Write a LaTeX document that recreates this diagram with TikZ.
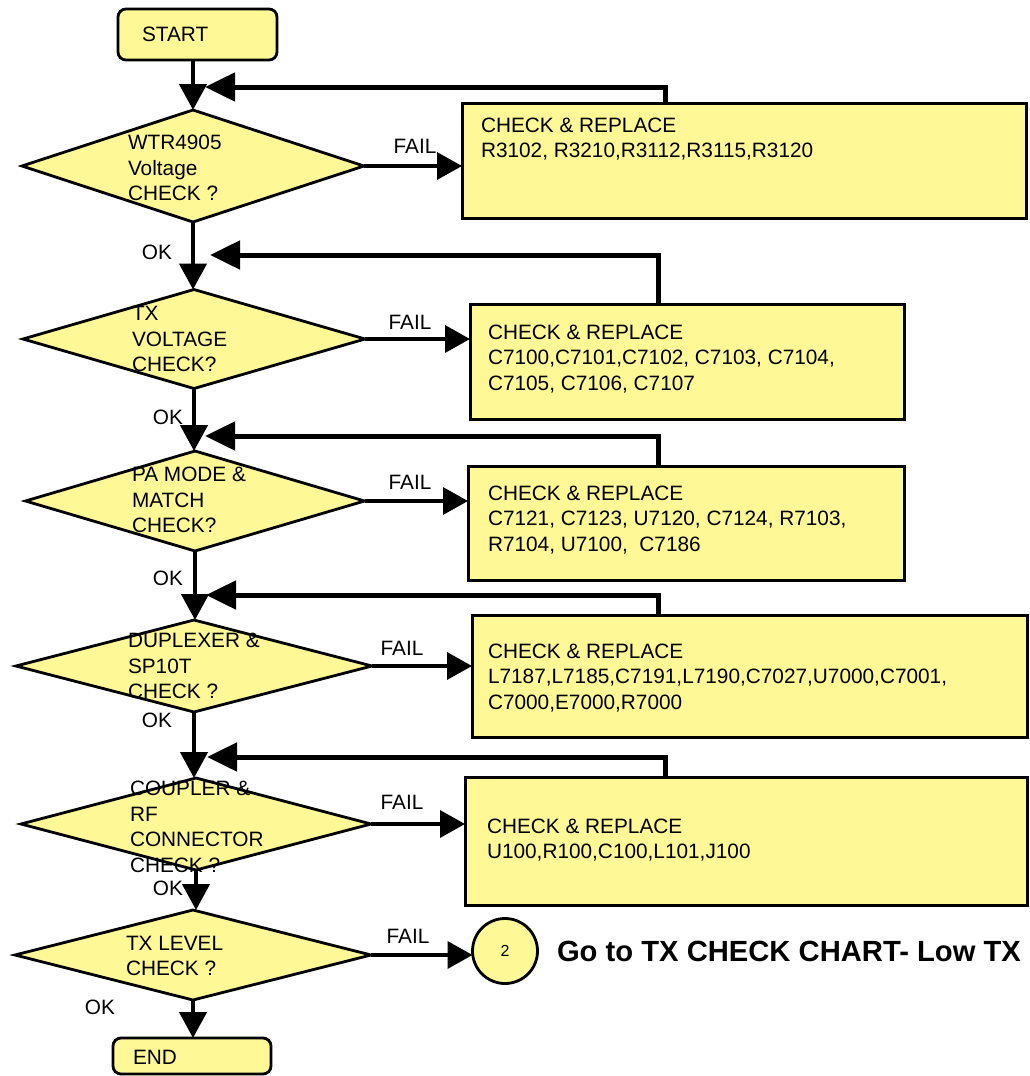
\documentclass[tikz,border=0pt]{standalone}
\usepackage{fontspec}
\setmainfont{Liberation Sans}
\usetikzlibrary{arrows.meta,shapes.geometric,calc}
\definecolor{fillY}{RGB}{255,248,150}
\begin{document}
\begin{tikzpicture}[x=1pt,y=-1pt,
  every node/.style={font=\fontsize{20.8}{25.5}\selectfont, inner sep=0pt, outer sep=0pt},
  txt/.style={anchor=west, align=left},
  dec/.style={diamond, draw, fill=fillY, line width=2.8pt},
  actbox/.style={rectangle, draw, fill=fillY, line width=3pt},
  term/.style={rectangle, rounded corners=8pt, draw, fill=fillY, line width=2.8pt},
  mainarr/.style={line width=4.5pt, -{Triangle[length=26pt,width=27pt]}},
  failarr/.style={line width=3.5pt, -{Triangle[length=25pt,width=27pt]}},
  fbarr/.style={line width=5pt, -{Triangle[length=30pt,width=28pt]}}
]
\useasboundingbox (0,0) rectangle (1029,1076);

% terminals
\node[term, minimum width=159pt, minimum height=51pt] (start) at (197.5,34.5) {};
\node[txt] (starttxt) at (142,34) {START};
\node[term, minimum width=158pt, minimum height=36pt] (end) at (192,1056) {};
\node[txt] (endtxt) at (133,1057) {END};

% decisions
\node[dec, minimum width=342pt, minimum height=112pt, shape aspect=3.05] (d1) at (193,166) {};
\node[dec, minimum width=342pt, minimum height=99pt, shape aspect=3.45] (d2) at (194,339) {};
\node[dec, minimum width=339pt, minimum height=100pt, shape aspect=3.39] (d3) at (195,501) {};
\node[dec, minimum width=356pt, minimum height=92pt, shape aspect=3.87] (d4) at (194,666) {};
\node[dec, minimum width=350pt, minimum height=92pt, shape aspect=3.8] (d5) at (196,824) {};
\node[dec, minimum width=356pt, minimum height=90pt, shape aspect=3.96] (d6) at (193,955) {};

\node[txt] (d1t) at (128,168) {WTR4905\\Voltage\\CHECK ?};
\node[txt] (d2t) at (132,339) {TX\\VOLTAGE\\CHECK?};
\node[txt] (d3t) at (132,500) {PA MODE \&\\MATCH\\CHECK?};
\node[txt] (d4t) at (128,666) {DUPLEXER \&\\SP10T\\CHECK ?};
\node[txt] (d5t) at (130,827) {COUPLER \&\\RF\\CONNECTOR\\CHECK ?};
\node[txt] (d6t) at (126,956) {TX LEVEL\\CHECK ?};

% action boxes
\node[actbox, minimum width=564pt, minimum height=115pt] (b1) at (744,160.5) {};
\node[actbox, minimum width=434pt, minimum height=115pt] (b2) at (687,361.5) {};
\node[actbox, minimum width=436pt, minimum height=114pt] (b3) at (686,523) {};
\node[actbox, minimum width=555pt, minimum height=122pt] (b4) at (749.5,676) {};
\node[actbox, minimum width=562pt, minimum height=128pt] (b5) at (746,841) {};

\node[txt] (b1t) at (481,139) {CHECK \& REPLACE\\R3102, R3210,R3112,R3115,R3120};
\node[txt] (b2t) at (488,359) {CHECK \& REPLACE\\C7100,C7101,C7102, C7103, C7104,\\C7105, C7106, C7107};
\node[txt] (b3t) at (488,520) {CHECK \& REPLACE\\C7121, C7123, U7120, C7124, R7103,\\R7104, U7100,\ \ C7186};
\node[txt] (b4t) at (488,678) {CHECK \& REPLACE\\L7187,L7185,C7191,L7190,C7027,U7000,C7001,\\C7000,E7000,R7000};
\node[txt] (b5t) at (487,840) {CHECK \& REPLACE\\U100,R100,C100,L101,J100};

% connector circle
\node[circle, draw, fill=fillY, line width=2.8pt, minimum size=65pt, font=\fontsize{16}{18}\selectfont] (c2) at (505,951) {2};
\node[txt, font=\fontsize{29.2}{32}\selectfont\bfseries] (goto) at (557,951) {Go to TX CHECK CHART- Low TX};

% labels
\node (ok1) at (157,252) {OK};
\node (ok2) at (168,417) {OK};
\node (ok3) at (168,578) {OK};
\node (ok4) at (157,720) {OK};
\node (ok5) at (168,888) {OK};
\node (ok6) at (100,1007) {OK};
\node (f1) at (415,146) {FAIL};
\node (f2) at (410,322) {FAIL};
\node (f3) at (410,482) {FAIL};
\node (f4) at (402,648) {FAIL};
\node (f5) at (402,802) {FAIL};
\node (f6) at (408,936) {FAIL};

% main flow
\draw[mainarr] (start.south -| d1.north) -- (d1.north);
\draw[mainarr] (d1.south) -- (d1.south |- d2.north);
\draw[mainarr] (d2.south) -- (d2.south |- d3.north);
\draw[mainarr] (d3.south) -- (d3.south |- d4.north);
\draw[mainarr] (d4.south) -- (d4.south |- d5.north);
\draw[mainarr] (d5.south) -- (d5.south |- d6.north);
\draw[mainarr] (d6.south) -- (d6.south |- end.north);

% fail arrows
\draw[failarr] (d1.east) -- (d1.east -| b1.west);
\draw[failarr] (d2.east) -- (d2.east -| b2.west);
\draw[failarr] (d3.east) -- (d3.east -| b3.west);
\draw[failarr] (d4.east) -- (d4.east -| b4.west);
\draw[failarr] (d5.east) -- (d5.east -| b5.west);
\draw[failarr] (d6.east) -- (d6.east -| c2.west);

% feedback
\coordinate (r1) at (205,87);
\coordinate (r2) at (210,255);
\coordinate (r3) at (205,436);
\coordinate (r4) at (206,595);
\coordinate (r5) at (207,757);
\draw[fbarr] ([xshift=203pt]b1.north west) |- (r1);
\draw[fbarr] ([xshift=188pt]b2.north west) |- (r2);
\draw[fbarr] ([xshift=190pt]b3.north west) |- (r3);
\draw[fbarr] ([xshift=186pt]b4.north west) |- (r4);
\draw[fbarr] ([xshift=200pt]b5.north west) |- (r5);
\end{tikzpicture}
\end{document}
